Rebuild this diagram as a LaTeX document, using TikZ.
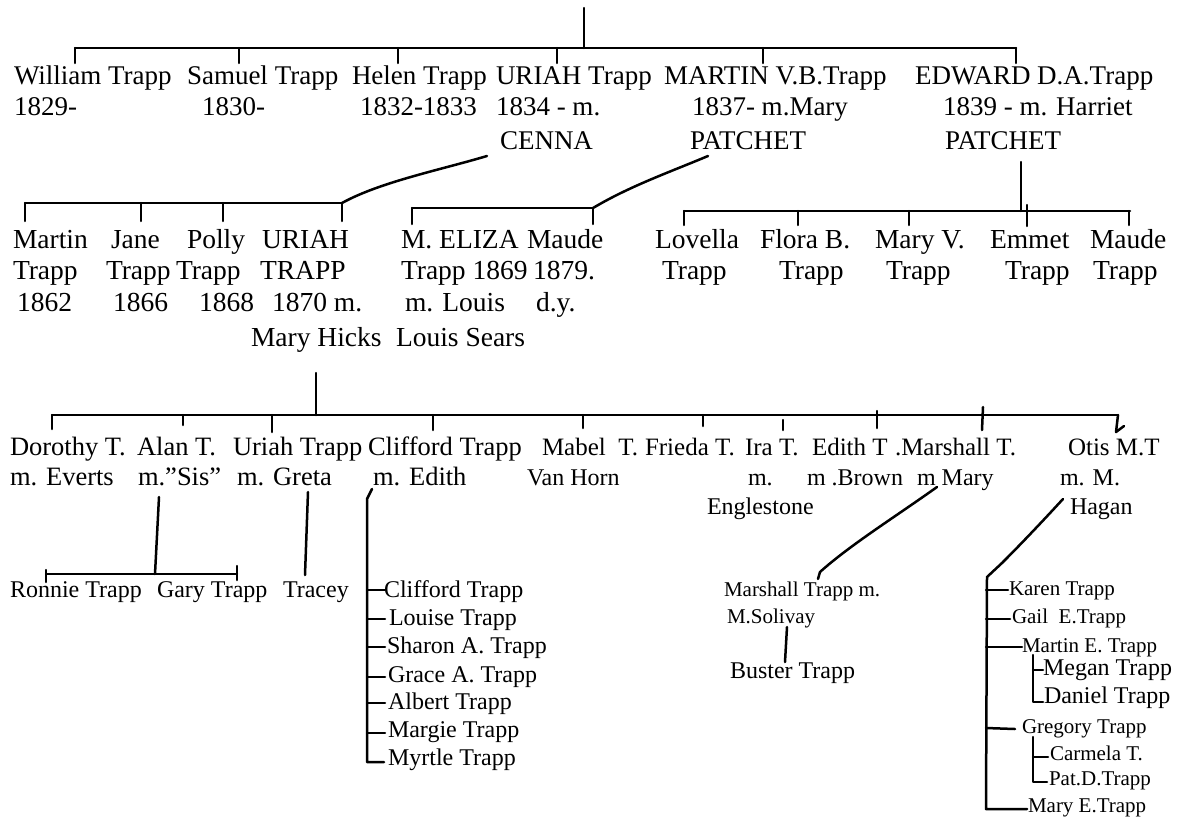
\documentclass[tikz,border=0pt]{standalone}
\usepackage{fontspec}
\setmainfont{Liberation Serif}
\begin{document}
\begin{tikzpicture}[x=1pt,y=-1pt,
  ln/.style={line width=2.5pt, line cap=round, line join=round},
  tx/.style={anchor=base west, inner sep=0pt, outer sep=0pt},
  fa/.style={tx, font=\fontsize{27}{32}\selectfont},
  fb/.style={tx, font=\fontsize{27.5}{32}\selectfont},
  fc/.style={tx, font=\fontsize{26.5}{30}\selectfont},
  fcc/.style={tx, font=\fontsize{25}{30}\selectfont},
  fd/.style={tx, font=\fontsize{24}{28}\selectfont},
  fe/.style={tx, font=\fontsize{21}{25}\selectfont},
]
\useasboundingbox (0,0) rectangle (1181,817);

% ---------- Row 1 ----------
\node[fa] (william)  at (14,84)  {William Trapp};
\node[fa] (william2) at (14,115) {1829-};
\node[fa] (samuel)   at (187,84) {Samuel Trapp};
\node[fa] (samuel2)  at (202,115) {1830-};
\node[fa] (helen)    at (352,84) {Helen Trapp};
\node[fa] (helen2)   at (360,115) {1832-1833};
\node[fa] (uriah)    at (496,84) {URIAH Trapp};
\node[fa] (uriah2)   at (496,115) {1834 - m.};
\node[fa] (uriah3)   at (500,149) {CENNA};
\node[fa] (martin)   at (664,84) {MARTIN V.B.Trapp};
\node[fa] (martin2)  at (692,115) {1837- m.Mary};
\node[fa] (martin3)  at (690,149) {PATCHET};
\node[fa] (edward)   at (915,84) {EDWARD D.A.Trapp};
\node[fa] (edward2)  at (943,115) {1839 - m. Harriet};
\node[fa] (edward3)  at (945,149) {PATCHET};

\coordinate (top) at (584,8);
\coordinate (g1)  at (584,48);
\coordinate (b1a) at (75,48);
\coordinate (b1b) at (1016,48);
\draw[ln] (top) -- (g1);
\draw[ln] (b1a) -- (b1b);
\foreach \x in {75,239,398,557,763,1016} \draw[ln] (\x,48) -- (\x,63);

% connectors to generation 2
\coordinate (c1s) at (487,156);
\coordinate (c1e) at (342,203);
\draw[ln] (c1s) .. controls (440,170) and (380,182) .. (c1e);
\coordinate (c2s) at (708,156);
\coordinate (c2e) at (593,208);
\draw[ln] (c2s) .. controls (670,172) and (630,186) .. (c2e);
\coordinate (c3s) at (1021,162);
\coordinate (c3e) at (1021,211);
\draw[ln] (c3s) -- (c3e);

% ---------- Row 2 ----------
\draw[ln] (25,203) -- (342,203);
\foreach \x in {25,141,223,342} \draw[ln] (\x,203) -- (\x,221);
\draw[ln] (412,208) -- (593,208);
\foreach \x in {412,593} \draw[ln] (\x,208) -- (\x,224);
\draw[ln] (684,211) -- (1130,211);
\foreach \x in {684,798,909,1129} \draw[ln] (\x,211) -- (\x,225);
\draw[ln] (1027,205) -- (1027,226);

\node[fb] (m1)  at (13,248)  {Martin};
\node[fb] (m2)  at (13,279)  {Trapp};
\node[fb] (m3)  at (17,311)  {1862};
\node[fb] (j1)  at (111,248) {Jane};
\node[fb] (j2)  at (106,279) {Trapp};
\node[fb] (j3)  at (113,311) {1866};
\node[fb] (p1)  at (187,248) {Polly};
\node[fb] (p2)  at (176,279) {Trapp};
\node[fb] (p3)  at (199,311) {1868};
\node[fb] (u1)  at (262,248) {URIAH};
\node[fb] (u2)  at (260,279) {TRAPP};
\node[fb] (u3)  at (272,311) {1870 m.};
\node[fb] (u4)  at (251,346) {Mary Hicks};
\node[fb] (e1)  at (401,248) {M. ELIZA};
\node[fb] (e2)  at (401,279) {Trapp 1869};
\node[fb] (e3)  at (405,311) {m. Louis};
\node[fb] (e4)  at (396,346) {Louis Sears};
\node[fb] (md1) at (527,248) {Maude};
\node[fb] (md2) at (533,279) {1879.};
\node[fb] (md3) at (536,311) {d.y.};
\node[fb] (lv1) at (655,248) {Lovella};
\node[fb] (lv2) at (662,279) {Trapp};
\node[fb] (fl1) at (760,248) {Flora B.};
\node[fb] (fl2) at (779,279) {Trapp};
\node[fb] (mv1) at (875,248) {Mary V.};
\node[fb] (mv2) at (886,279) {Trapp};
\node[fb] (em1) at (990,248) {Emmet};
\node[fb] (em2) at (1005,279) {Trapp};
\node[fb] (mu1) at (1090,248) {Maude};
\node[fb] (mu2) at (1093,279) {Trapp};

% ---------- Row 3 ----------
\coordinate (g3t) at (316,373);
\coordinate (g3b) at (316,415);
\draw[ln] (g3t) -- (g3b);
\draw[ln] (52,415) -- (1118,415);
\foreach \x/\y in {52/429,183/425,272/432,433/430,583/428,703/426} \draw[ln] (\x,415) -- (\x,\y);
\draw[ln] (783,420) -- (783,430);
\draw[ln] (877,411) -- (877,428);
\draw[ln] (983,407) -- (982,430);
\draw[ln] (1118,415) -- (1116,432) -- (1124,426);

\node[fc]  (d1)  at (10,455)  {Dorothy T.};
\node[fc]  (d2)  at (10,485)  {m. Everts};
\node[fc]  (a1)  at (137,455) {Alan T.};
\node[fc]  (a2)  at (138,485) {m."Sis"};
\node[fc]  (ur1) at (233,455) {Uriah Trapp};
\node[fc]  (ur2) at (237,485) {m. Greta};
\node[fc]  (cl1) at (368,455) {Clifford Trapp};
\node[fc]  (cl2) at (373,485) {m. Edith};
\node[fcc] (mb1) at (542,455) {Mabel\ \ T.};
\node[fd]  (mb2) at (527,485) {Van Horn};
\node[fcc] (fr1) at (645,455) {Frieda T.};
\node[fcc] (ir1) at (745,455) {Ira T.};
\node[fd]  (ir2) at (748,485) {m.};
\node[fd]  (ir3) at (707,514) {Englestone};
\node[fcc] (ed1) at (812,455) {Edith T};
\node[fd]  (ed2) at (807,485) {m .Brown};
\node[fcc] (ms1) at (895,455) {.Marshall T.};
\node[fd]  (ms2) at (917,485) {m Mary};
\node[fcc] (ot1) at (1068,455) {Otis M.T};
\node[fd]  (ot2) at (1060,485) {m. M.};
\node[fd]  (ot3) at (1070,514) {Hagan};

% ---------- Row 4 ----------
\draw[ln] (159,497) -- (155,574);
\draw[ln] (46,574) -- (237,574);
\draw[ln] (46,570) -- (46,582);
\draw[ln] (237,566) -- (237,580);
\draw[ln] (308,492) -- (305,575);
\node[fd] (rt) at (10,597)  {Ronnie Trapp};
\node[fd] (gt) at (157,597) {Gary Trapp};
\node[fd] (tr) at (283,597) {Tracey};

\draw[ln] (372,489) -- (367,499) -- (367,762) -- (384,762);
\foreach \y in {590,619,647,677,703,733} \draw[ln] (367,\y) -- (385,\y);
\node[fd] (k1) at (384,597) {Clifford Trapp};
\node[fd] (k2) at (389,625) {Louise Trapp};
\node[fd] (k3) at (387,653) {Sharon A. Trapp};
\node[fd] (k4) at (388,682) {Grace A. Trapp};
\node[fd] (k5) at (388,709) {Albert Trapp};
\node[fd] (k6) at (388,737) {Margie Trapp};
\node[fd] (k7) at (388,765) {Myrtle Trapp};

\draw[ln] (937,487) .. controls (895,517) and (850,545) .. (820,572) -- (818,579);
\node[fe] (mt1) at (724,596) {Marshall Trapp m.};
\node[fe] (mt2) at (727,623) {M.Solivay};
\draw[ln] (787,627) -- (785,662);
\node[fd] (bt) at (730,678) {Buster Trapp};

\draw[ln] (1063,499) .. controls (1040,524) and (1020,545) .. (1002,563) -- (987,577) -- (986,809) -- (1027,809);
\draw[ln] (986,590) -- (1008,590);
\draw[ln] (986,619) -- (1010,619);
\draw[ln] (986,647) -- (1022,647);
\draw[ln] (986,728) -- (1015,729);
\node[fe] (o1) at (1009,595) {Karen Trapp};
\node[fe] (o2) at (1012,623) {Gail\ \ E.Trapp};
\node[fe] (o3) at (1022,652) {Martin E. Trapp};
\draw[ln] (1033,655) -- (1033,702) -- (1043,702);
\draw[ln] (1033,670) -- (1043,670);
\node[fd] (o4) at (1043,675) {Megan Trapp};
\node[fd] (o5) at (1044,703) {Daniel Trapp};
\node[fe] (o6) at (1022,733) {Gregory Trapp};
\draw[ln] (1033,737) -- (1033,782) -- (1047,782);
\draw[ln] (1033,757) -- (1048,757);
\node[fe] (o7) at (1050,760) {Carmela T.};
\node[fe] (o8) at (1049,785) {Pat.D.Trapp};
\node[fe] (o9) at (1028,812) {Mary E.Trapp};
\end{tikzpicture}
\end{document}
